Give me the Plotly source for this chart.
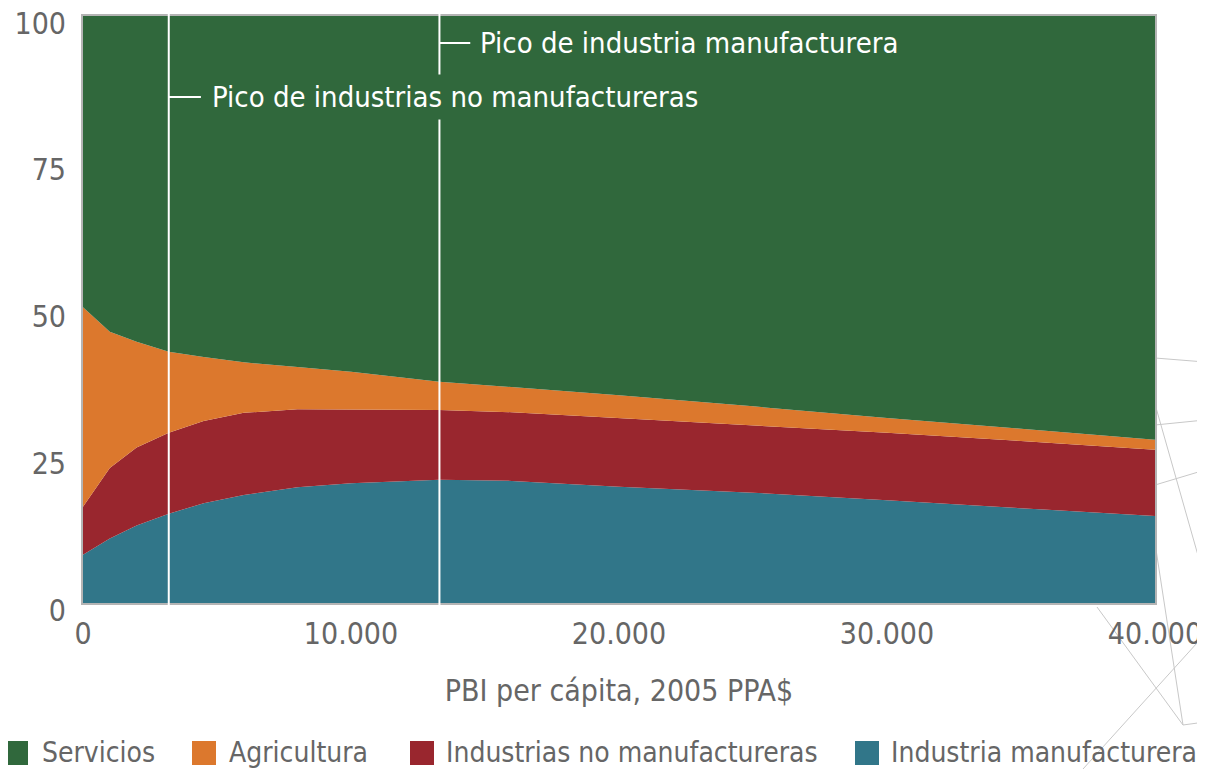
import plotly.graph_objects as go

# Data
pbi = [0, 1000, 2000, 3200, 4500, 6000, 8000, 10000, 13300, 16000, 20000, 25000, 30000, 35000, 40000]
manufacturera = [8.2, 11.0, 13.2, 15.2, 17.0, 18.4, 19.7, 20.4, 21.0, 20.8, 19.8, 18.8, 17.5, 16.2, 14.8]
no_manufacturera = [8.2, 12.0, 13.3, 13.8, 14.0, 14.0, 13.3, 12.6, 11.9, 11.7, 11.7, 11.5, 11.5, 11.4, 11.3]
agricultura = [34.0, 23.2, 18.0, 13.8, 10.9, 8.6, 7.2, 6.4, 4.8, 4.3, 3.9, 3.2, 2.5, 2.1, 1.7]
servicios = [round(100 - a - b - c, 1) for a, b, c in zip(manufacturera, no_manufacturera, agricultura)]

series_names = ["Industria manufacturera", "Industrias no manufactureras", "Agricultura", "Servicios"]
series_values = [manufacturera, no_manufacturera, agricultura, servicios]
colors = ["#317689", "#99262e", "#dc782d", "#30683c"]

legend_names = ["Servicios", "Agricultura", "Industrias no manufactureras", "Industria manufacturera"]
legend_colors = ["#30683c", "#dc782d", "#99262e", "#317689"]

x_ticks = [0, 10000, 20000, 30000, 40000]
x_tick_labels = ["0", "10.000", "20.000", "30.000", "40.000"]
y_ticks = [0, 25, 50, 75, 100]

peak_no_manuf = 3200
peak_manuf = 13300

FONT = "DejaVu Sans Condensed, Liberation Sans Narrow, sans-serif"
GREY = "#666666"

# figure geometry (pixels); page body adds an 8px offset
OFF = 8
W, H = 1205, 769
L, R, T, B = 75, 58, 8, 174
PW, PH = W - L - R, H - T - B


def px_x(p):
    # screen x pixel -> paper coordinate
    return (p - OFF - L) / PW


def px_y(p):
    # screen y pixel -> paper coordinate
    return (H - B - (p - OFF)) / PH


fig = go.Figure()
for name, vals, col in zip(series_names, series_values, colors):
    fig.add_trace(go.Scatter(
        x=pbi, y=vals, name=name, stackgroup="one", mode="lines",
        line=dict(width=0, color=col), fillcolor=col, showlegend=False,
        hoverinfo="x+y+name"))

# vertical peak lines
for xv in [peak_no_manuf, peak_manuf]:
    fig.add_shape(type="line", xref="x", yref="paper", x0=xv, x1=xv, y0=-0.016, y1=1.014,
                  line=dict(color="white", width=2), layer="above")

# connector ticks
fig.add_shape(type="line", xref="x", yref="y", x0=peak_no_manuf, x1=peak_no_manuf + 1200, y0=86.2, y1=86.2,
              line=dict(color="white", width=2), layer="above")
fig.add_shape(type="line", xref="x", yref="y", x0=peak_manuf, x1=peak_manuf + 1150, y0=95.4, y1=95.4,
              line=dict(color="white", width=2), layer="above")

fig.add_annotation(x=peak_manuf + 1450, y=95.4, xref="x", yref="y", text="Pico de industria manufacturera",
                   showarrow=False, xanchor="left", yanchor="middle",
                   font=dict(family=FONT, size=29, color="white"))
fig.add_annotation(x=peak_no_manuf + 1400, y=86.2, xref="x", yref="y", text="Pico de industrias no manufactureras",
                   showarrow=False, xanchor="left", yanchor="middle", bgcolor="#30683c", borderpad=5,
                   font=dict(family=FONT, size=29, color="white"))

# manual one-row legend (squares + labels)
sq_left = [4, 192, 410, 855]
txt_left = [40, 227, 444, 889]
for name, col, sx, tx in zip(legend_names, legend_colors, sq_left, txt_left):
    fig.add_shape(type="rect", xref="paper", yref="paper",
                  x0=px_x(sx), x1=px_x(sx + 24), y0=px_y(765), y1=px_y(741),
                  line=dict(width=0), fillcolor=col)
    fig.add_annotation(x=px_x(tx), y=px_y(752), xref="paper", yref="paper", text=name,
                       showarrow=False, xanchor="left", yanchor="middle",
                       font=dict(family=FONT, size=28, color=GREY))

# faint decorative background lines at the right edge
deco = [
    ((1155, 358), (1205, 362)),
    ((1155, 425), (1205, 420)),
    ((1155, 485), (1205, 470)),
    ((1153, 397), (1205, 580)),
    ((1155, 543), (1183, 725)),
    ((1097, 607), (1183, 725)),
    ((1183, 725), (1205, 722)),
    ((1083, 769), (1197, 643)),
]
for (xa, ya), (xb, yb) in deco:
    fig.add_shape(type="line", xref="paper", yref="paper",
                  x0=px_x(xa), y0=px_y(ya), x1=px_x(xb), y1=px_y(yb),
                  line=dict(color="#c8c8c8", width=1), layer="below")

fig.update_layout(
    width=W, height=H,
    margin=dict(l=L, r=R, t=T, b=B, autoexpand=False),
    paper_bgcolor="white", plot_bgcolor="white",
    font=dict(family=FONT, color=GREY, size=30),
    showlegend=False,
    xaxis=dict(range=[0, 40000], tickvals=x_ticks, ticktext=x_tick_labels, showgrid=False, zeroline=False,
               showline=True, linecolor="#b4b4b4", linewidth=2, mirror=True, ticks="",
               tickfont=dict(family=FONT, size=30, color=GREY), ticklabelstandoff=3,
               ticklabeloverflow="allow",
               title=dict(text="PBI per cápita, 2005 PPA$", font=dict(family=FONT, size=30, color=GREY), standoff=30)),
    yaxis=dict(range=[0, 100.0001], tickvals=y_ticks, showgrid=False, zeroline=False,
               showline=True, linecolor="#b4b4b4", linewidth=2, mirror=True, ticks="",
               tickfont=dict(family=FONT, size=30, color=GREY), ticklabelstandoff=9,
               ticklabelshift=7, ticklabeloverflow="allow"),
)

fig.write_html("out.html")
